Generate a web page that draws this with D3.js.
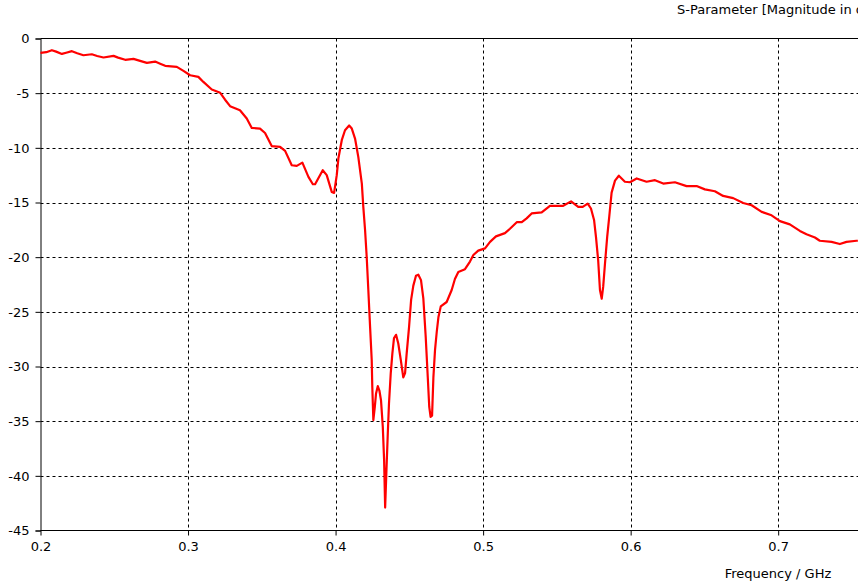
<!DOCTYPE html>
<html>
<head>
<meta charset="utf-8">
<script src="https://cdn.jsdelivr.net/npm/d3@7"></script>
<style>
  html, body { margin: 0; padding: 0; background: #fff; }
  svg { display: block; }
  text { font-family: "DejaVu Sans", Verdana, sans-serif; font-size: 13px; fill: #000; }
</style>
</head>
<body>
<svg id="chart" width="858" height="587"></svg>
<script>
// Frequency (GHz)
const frequency = [
  0.2000, 0.2039, 0.2077, 0.2106, 0.2145, 0.2174, 0.2213, 0.2249, 0.2291, 0.2348,
  0.2384, 0.2427, 0.2495, 0.2526, 0.2574, 0.2630, 0.2675, 0.2721, 0.2777, 0.2811,
  0.2845, 0.2924, 0.2969, 0.3014, 0.3070, 0.3104, 0.3161, 0.3218, 0.3251, 0.3285,
  0.3352, 0.3398, 0.3432, 0.3488, 0.3522, 0.3568, 0.3624, 0.3658, 0.3703, 0.3737,
  0.3775, 0.3816, 0.3846, 0.3861, 0.3913, 0.3940, 0.3974, 0.3990, 0.4008, 0.4019,
  0.4042, 0.4064, 0.4092, 0.4110, 0.4132, 0.4154, 0.4178, 0.4188, 0.4200, 0.4211,
  0.4222, 0.4234, 0.4245, 0.4249, 0.4256, 0.4266, 0.4274, 0.4286, 0.4297, 0.4308,
  0.4320, 0.4329, 0.4336, 0.4344, 0.4354, 0.4362, 0.4374, 0.4385, 0.4396, 0.4410,
  0.4425, 0.4442, 0.4459, 0.4471, 0.4482, 0.4498, 0.4512, 0.4527, 0.4545, 0.4561,
  0.4579, 0.4595, 0.4611, 0.4625, 0.4635, 0.4644, 0.4654, 0.4663, 0.4674, 0.4686,
  0.4697, 0.4713, 0.4753, 0.4787, 0.4809, 0.4832, 0.4877, 0.4911, 0.4934, 0.4967,
  0.5013, 0.5047, 0.5087, 0.5148, 0.5182, 0.5228, 0.5262, 0.5295, 0.5329, 0.5397,
  0.5453, 0.5543, 0.5596, 0.5645, 0.5675, 0.5709, 0.5731, 0.5752, 0.5765, 0.5780,
  0.5792, 0.5804, 0.5814, 0.5826, 0.5841, 0.5855, 0.5871, 0.5894, 0.5920, 0.5961,
  0.5995, 0.6041, 0.6108, 0.6165, 0.6221, 0.6300, 0.6379, 0.6447, 0.6503, 0.6571,
  0.6627, 0.6695, 0.6763, 0.6820, 0.6888, 0.6955, 0.7012, 0.7079, 0.7147, 0.7192,
  0.7249, 0.7282, 0.7362, 0.7418, 0.7463, 0.7531, 0.7540
];
// S-Parameter magnitude (dB)
const magnitudeDb = [
  -1.32, -1.25, -1.07, -1.20, -1.41, -1.30, -1.16, -1.35, -1.53, -1.44,
  -1.60, -1.74, -1.59, -1.75, -1.95, -1.86, -2.05, -2.23, -2.11, -2.30,
  -2.50, -2.60, -2.96, -3.36, -3.51, -3.97, -4.67, -4.97, -5.60, -6.19,
  -6.56, -7.32, -8.18, -8.24, -8.64, -9.85, -9.91, -10.28, -11.59, -11.65,
  -11.35, -12.66, -13.33, -13.33, -12.05, -12.50, -14.03, -14.12, -12.50, -10.98,
  -9.30, -8.39, -7.96, -8.24, -9.15, -10.83, -13.27, -15.40, -17.54, -19.98,
  -23.00, -26.40, -29.40, -31.90, -34.90, -33.70, -32.50, -31.80, -32.20, -33.10,
  -35.50, -38.60, -42.90, -39.80, -36.10, -33.40, -30.60, -28.80, -27.40, -27.10,
  -27.90, -29.40, -31.00, -30.60, -28.80, -26.40, -23.90, -22.60, -21.70, -21.60,
  -22.10, -23.80, -27.30, -31.00, -33.70, -34.60, -34.50, -31.00, -28.50, -26.80,
  -25.50, -24.50, -24.10, -23.00, -22.00, -21.35, -21.10, -20.40, -19.80, -19.40,
  -19.20, -18.60, -18.10, -17.80, -17.40, -16.80, -16.80, -16.45, -16.00, -15.90,
  -15.30, -15.30, -14.90, -15.40, -15.40, -15.10, -15.55, -16.60, -18.15, -20.30,
  -23.00, -23.80, -22.70, -20.60, -18.15, -16.30, -14.10, -13.00, -12.55, -13.10,
  -13.15, -12.80, -13.10, -12.96, -13.27, -13.15, -13.50, -13.50, -13.80, -13.97,
  -14.40, -14.60, -15.04, -15.25, -15.86, -16.17, -16.70, -17.00, -17.60, -17.90,
  -18.20, -18.50, -18.60, -18.80, -18.60, -18.50, -18.50
];
const xTicks = [0.2, 0.3, 0.4, 0.5, 0.6, 0.7];
const yTicks = [0, -5, -10, -15, -20, -25, -30, -35, -40, -45];
const chartTitle = "S-Parameter [Magnitude in dB]";
const xAxisTitle = "Frequency / GHz";

(function () {
  const data = frequency.map((f, i) => ({ f, v: magnitudeDb[i] }));

  const svg = d3.select("#chart");
  const pL = 40.5, pR = 858, pT = 38.5, pB = 530.5;

  const x = d3.scaleLinear().domain([0.2, 0.7541]).range([pL, pR]);
  const y = d3.scaleLinear().domain([-45, 0]).range([pB, pT]);

  // grid
  const grid = svg.append("g");
  grid.selectAll("line.vg").data(xTicks.filter(t => t > 0.2))
    .join("line")
    .attr("x1", d => Math.round(x(d)) + 0.5).attr("x2", d => Math.round(x(d)) + 0.5)
    .attr("y1", pT).attr("y2", pB)
    .attr("stroke", "#000").attr("stroke-width", 1).attr("stroke-dasharray", "3,3");
  grid.selectAll("line.hg").data(yTicks.filter(t => t < 0 && t > -45))
    .join("line")
    .attr("x1", pL).attr("x2", pR)
    .attr("y1", d => Math.round(y(d)) + 0.5).attr("y2", d => Math.round(y(d)) + 0.5)
    .attr("stroke", "#000").attr("stroke-width", 1).attr("stroke-dasharray", "3,3");

  // top border
  svg.append("line").attr("x1", pL).attr("x2", pR).attr("y1", pT).attr("y2", pT)
    .attr("stroke", "#000").attr("stroke-width", 1);

  // axes
  const xAxis = d3.axisBottom(x).tickValues(xTicks).tickFormat(d3.format(".1f")).tickSize(5).tickPadding(6);
  const gx = svg.append("g").attr("transform", `translate(0,${pB})`).call(xAxis);
  gx.select(".domain").attr("d", `M${pL},0H${pR}`);
  gx.selectAll("text").style("font-family", "DejaVu Sans, Verdana, sans-serif").style("font-size", "13px");

  const yAxis = d3.axisLeft(y).tickValues(yTicks).tickFormat(d => String(d)).tickSize(5).tickPadding(6);
  const gy = svg.append("g").attr("transform", `translate(${pL},0)`).call(yAxis);
  gy.selectAll("text").style("font-family", "DejaVu Sans, Verdana, sans-serif").style("font-size", "13px");

  // curve
  const line = d3.line().x(d => x(d.f)).y(d => y(d.v));
  svg.append("path").datum(data)
    .attr("d", line)
    .attr("fill", "none")
    .attr("stroke", "#ff0000")
    .attr("stroke-width", 2.2)
    .attr("stroke-linejoin", "round");

  // titles (chart title is clipped by the right edge, as in the original)
  svg.append("text").attr("x", 677).attr("y", 14).text(chartTitle);
  svg.append("text").attr("x", 778).attr("y", 578).attr("text-anchor", "middle").text(xAxisTitle);
})();
</script>
</body>
</html>
